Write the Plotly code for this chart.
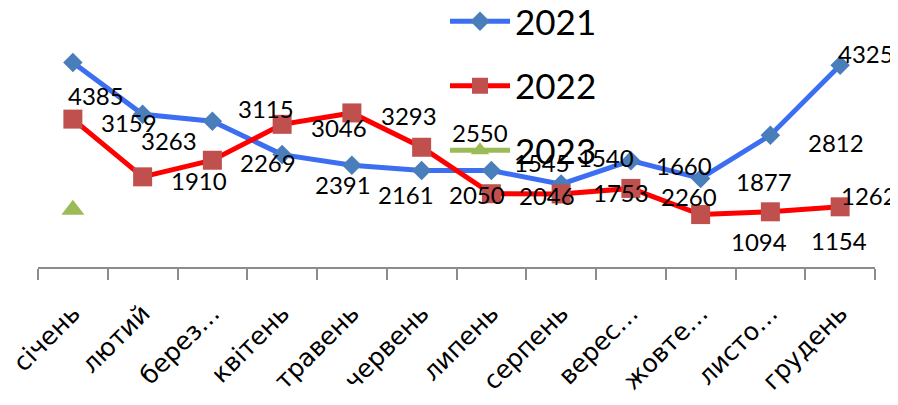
import plotly.graph_objects as go

months = ["січень", "лютий", "березень", "квітень", "травень", "червень",
          "липень", "серпень", "вересень", "жовтень", "листопад", "грудень"]
month_ticks = ["січень", "лютий", "берез…", "квітень", "травень", "червень",
               "липень", "серпень", "верес…", "жовте…", "листо…", "грудень"]

v2021 = [4385, 3263, 3115, 2391, 2161, 2050, 2046, 1753, 2260, 1877, 2812, 4325]
v2022 = [3159, 1910, 2269, 3046, 3293, 2550, 1545, 1540, 1660, 1094, 1154, 1262]
v2023 = [1200, None, None, None, None, None, None, None, None, None, None, None]

# label offsets in pixels (dx right, dy down) – purely layout
off2021 = [(23, 33), (26, 26), (54, -13), (61, 30), (54, 29), (55, 24),
           (56, 25), (60, 8), (58, 36), (63, 3), (66, 7), (26, -12)]
off2022 = [(56, 3), (56, 4), (56, 2), (57, 3), (57, 3), (58, -15),
           (51, -31), (45, -36), (53, -23), (58, 27), (69, 29), (29, -11)]

fig = go.Figure()
fig.add_trace(go.Scatter(
    x=months, y=v2021, name="2021", mode="lines+markers", legendgroup="a",
    line=dict(color="#3c6ef2", width=5),
    marker=dict(symbol="diamond", size=15, color="#4a7ebb"),
))
fig.add_trace(go.Scatter(
    x=months, y=v2022, name="2022", mode="lines+markers", legendgroup="b",
    line=dict(color="#ff0000", width=5),
    marker=dict(symbol="square", size=19, color="#c0504d"),
))
fig.add_trace(go.Scatter(
    x=months, y=v2023, name="2023", mode="lines+markers", legendgroup="c",
    line=dict(color="#9bbb59", width=5),
    marker=dict(symbol="triangle-up", size=20, color="#9bbb59"),
))

annotations = []
for vals, offs in ((v2021, off2021), (v2022, off2022)):
    for m, v, (dx, dy) in zip(months, vals, offs):
        annotations.append(dict(
            x=m, y=v, xref="x", yref="y", text=str(v), showarrow=False,
            xshift=dx, yshift=-dy, xanchor="center", yanchor="middle",
            font=dict(family="Lato", size=24, color="black"),
        ))

fig.update_layout(
    width=890, height=397,
    margin=dict(l=30, r=23, t=26, b=138, autoexpand=False),
    paper_bgcolor="white", plot_bgcolor="white",
    showlegend=True,
    legend=dict(x=(437 - 30) / 837, y=1 + (26 + 16) / 233, xanchor="left", yanchor="top",
                font=dict(family="Lato", size=35, color="black"),
                itemwidth=60,
                tracegroupgap=16, bgcolor="rgba(0,0,0,0)", traceorder="grouped"),
    annotations=annotations,
    xaxis=dict(
        type="category", categoryorder="array", categoryarray=months,
        tickvals=months, ticktext=month_ticks, automargin=False,
        range=[-0.5, 11.5],
        tickson="boundaries", ticks="outside", ticklen=11, tickcolor="#8c8c8c",
        tickwidth=1.5, showline=True, linecolor="#8c8c8c", linewidth=1.5,
        showgrid=False, zeroline=False, tickangle=-45,
        tickfont=dict(family="DejaVu Sans", size=25, color="black"),
        ticklabelstandoff=20,
    ),
    yaxis=dict(visible=False, range=[-40, 5000], showgrid=False, zeroline=False,
               automargin=False),
)

fig.write_html("out.html")
